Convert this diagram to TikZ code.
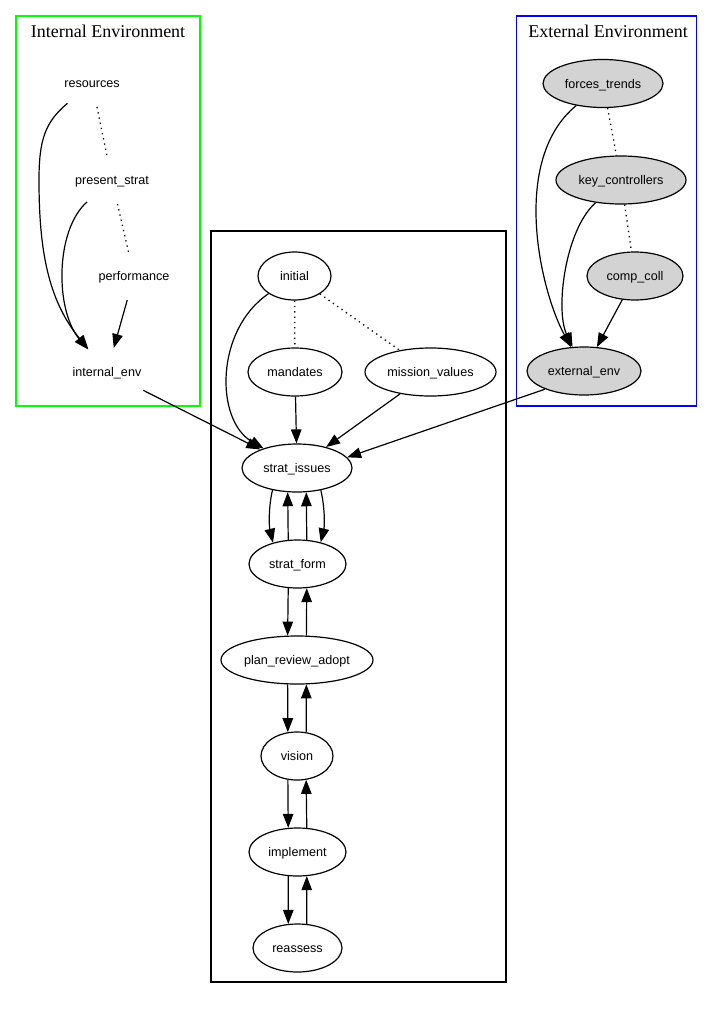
\documentclass[tikz,border=0pt]{standalone}
\usepackage{fontspec}
\setmainfont{Liberation Serif}
\setsansfont{Liberation Sans}
\usetikzlibrary{shapes.geometric,arrows.meta}
\definecolor{gvgrey}{HTML}{D3D3D3}
\definecolor{gvgreen}{HTML}{00FF00}
\definecolor{gvblue}{HTML}{0000FF}
\begin{document}
\begin{tikzpicture}[x=1pt,y=-1pt,
  lab/.style={font=\sffamily\fontsize{12.6}{14}\selectfont, text height=9.6pt, text depth=0pt},
  ell/.style={ellipse, draw=black, line width=1.2pt, minimum height=48pt, inner sep=0pt, lab},
  gry/.style={ell, fill=gvgrey},
  inv/.style={ellipse, minimum height=48pt, inner sep=0pt, lab},
  edge/.style={line width=1.2pt, -{Triangle[length=14pt,width=10.5pt]}},
  dotl/.style={line width=1.3pt, dash pattern=on 1.3pt off 4pt},
  clus/.style={line width=1.1pt, rectangle, inner sep=0pt},
  ttl/.style={font=\rmfamily\fontsize{18}{20}\selectfont}]
\useasboundingbox (0,0) rectangle (713,1009);
% clusters
\node[clus, draw=gvgreen, minimum width=184pt, minimum height=390pt] (intc) at (108,211) {};
\node[ttl] (intt) at (108,31) {Internal Environment};
\node[clus, draw=gvblue, minimum width=180pt, minimum height=390pt] (extc) at (606.5,211) {};
\node[ttl] (extt) at (608,31) {External Environment};
\node[clus, draw=black, minimum width=295pt, minimum height=751pt] (midc) at (358.5,606.5) {};
% internal nodes
\node[inv, minimum width=90pt] (res) at (92,83) {resources};
\node[inv, minimum width=116pt] (ps) at (112,180) {present\_strat};
\node[inv, minimum width=110pt] (perf) at (134,276) {performance};
\node[inv, minimum width=110pt] (ie) at (107,372) {internal\_env};
% external nodes
\node[gry, minimum width=120pt] (ft) at (603,83.5) {forces\_trends};
\node[gry, minimum width=130pt] (kc) at (621,180) {key\_controllers};
\node[gry, minimum width=96pt] (cc) at (635,276) {comp\_coll};
\node[gry, minimum width=114pt] (ee) at (584,371) {external\_env};
% middle nodes
\node[ell, minimum width=73pt] (ini) at (294.5,276) {initial};
\node[ell, minimum width=94pt] (man) at (295,372) {mandates};
\node[ell, minimum width=131pt] (mv) at (430.5,372) {mission\_values};
\node[ell, minimum width=110pt] (si) at (297,468) {strat\_issues};
\node[ell, minimum width=97pt] (sf) at (297.5,564) {strat\_form};
\node[ell, minimum width=152pt] (pra) at (297,660) {plan\_review\_adopt};
\node[ell, minimum width=72pt] (vis) at (297,756) {vision};
\node[ell, minimum width=97pt] (imp) at (297.5,852) {implement};
\node[ell, minimum width=89pt] (rea) at (297.5,948) {reassess};
\coordinate (rbend) at (39,180);
% internal edges
\draw[edge] (res) .. controls (45,122) and (39,140) .. (rbend)
            .. controls (39,250) and (48,300) .. (ie);
\draw[edge] (ps) .. controls (55,230) and (55,310) .. (ie);
\draw[edge] (perf) -- (ie);
\draw[dotl] (res) -- (ps);
\draw[dotl] (ps) -- (perf);
\draw[edge] (ie) -- (si);
% external edges
\draw[edge] (ft) .. controls (510,160) and (540,290) .. (ee);
\draw[edge] (kc) .. controls (565,230) and (555,310) .. (ee);
\draw[edge] (cc) -- (ee);
\draw[dotl] (ft) -- (kc);
\draw[dotl] (kc) -- (cc);
\draw[edge] (ee.205) -- (si.12);
% middle edges
\draw[edge] (ini) .. controls (215,330) and (215,420) .. (si);
\draw[dotl] (ini) -- (man);
\draw[dotl] (ini) -- (mv);
\draw[edge] (man) -- (si);
\draw[edge] (mv) -- (si);
\draw[edge] (si.222) .. controls +(-4,17) and +(-4,-17) .. (sf.139);
\draw[edge] (si.317) .. controls +(4,17) and +(4,-17) .. (sf.43);
\draw[edge] (sf.111) -- (si.249);
\draw[edge] (sf.69) -- (si.291);
\draw[edge] (sf.249) -- (pra.111);
\draw[edge] (pra.69) -- (sf.291);
\draw[edge] (pra.249) -- (vis.111);
\draw[edge] (vis.69) -- (pra.291);
\draw[edge] (vis.249) -- (imp.111);
\draw[edge] (imp.69) -- (vis.291);
\draw[edge] (imp.249) -- (rea.111);
\draw[edge] (rea.69) -- (imp.291);
\end{tikzpicture}
\end{document}
